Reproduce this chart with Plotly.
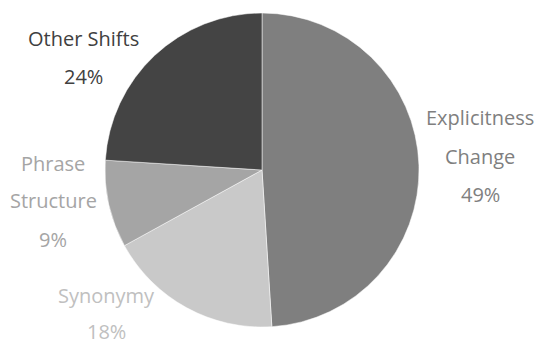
import plotly.graph_objects as go

# Shares of translation shift types
categories = ["Explicitness Change", "Synonymy", "Phrase Structure", "Other Shifts"]
label_lines = [["Explicitness", "Change"], ["Synonymy"], ["Phrase", "Structure"], ["Other Shifts"]]
values = [49, 18, 9, 24]
slice_colors = ["#7f7f7f", "#c9c9c9", "#a5a5a5", "#444444"]
text_colors = ["#7f7f7f", "#c0c0c0", "#a5a5a5", "#404040"]

W, H = 538, 347
cx, cy, r = 262, 170, 157

fig = go.Figure(go.Pie(
    labels=categories,
    values=values,
    sort=False,
    direction="clockwise",
    rotation=0,
    marker=dict(colors=slice_colors, line=dict(color="#ffffff", width=0.5)),
    textinfo="none",
    hoverinfo="label+percent",
    domain=dict(x=[(cx - r) / W, (cx + r) / W], y=[(H - cy - r) / H, (H - cy + r) / H]),
    showlegend=False,
))

# Label placement (paper pixels): centre x, y of the first line, and line spacing
label_pos = [(480, 118, 38), (106, 295, 36), (53, 163, 38), (83, 38, 38)]
total = sum(values)
for lines, v, col, (lx, ly, gap) in zip(label_lines, values, text_colors, label_pos):
    texts = lines + [f"{round(100 * v / total)}%"]
    for i, t in enumerate(texts):
        fig.add_annotation(
            x=lx / W, y=1 - (ly + i * gap) / H,
            xref="paper", yref="paper",
            xanchor="center", yanchor="middle",
            text=t, showarrow=False, borderpad=0,
            font=dict(family="Open Sans", size=20, color=col),
        )

fig.update_layout(
    width=W, height=H,
    margin=dict(l=0, r=0, t=0, b=0),
    paper_bgcolor="white",
    plot_bgcolor="white",
)

fig.write_html("out.html")
